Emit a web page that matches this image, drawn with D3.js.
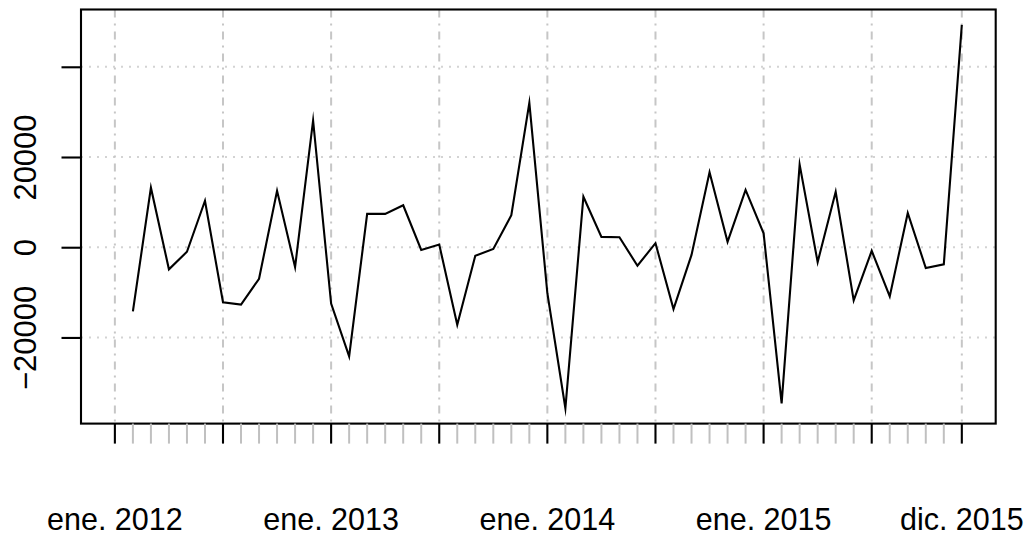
<!DOCTYPE html>
<html>
<head>
<meta charset="utf-8">
<script src="https://cdn.jsdelivr.net/npm/d3@7"></script>
<style>
  html, body { margin: 0; padding: 0; background: #fff; }
  svg { display: block; }
  text { font-family: "Liberation Sans", Arial, Helvetica, sans-serif; fill: #000; }
</style>
</head>
<body>
<svg id="chart" width="1029" height="535"></svg>
<script>
// Monthly series, feb. 2012 .. dic. 2015 (month index 0 = ene. 2012)
const startMonth = 1;
const values = [
  -14200, 13200, -4900, -1000, 10300, -12200, -12700, -7000, 12500, -4400, 28100,
  -12500, -24200, 7400, 7400, 9300, -600, 600, -17200, -1900, -400, 7100, 32000,
  -10200, -35700, 11200, 2300, 2200, -4100, 900, -13700, -1700, 16600, 1200, 12700,
  3100, -34600, 18300, -3300, 12300, -11800, -800, -10900, 7600, -4600, -3800, 49300
];
const monthIndex = values.map((_, i) => startMonth + i);

// Axis ticks
const majorTicks = [0, 6, 12, 18, 24, 30, 36, 42, 47];
const minorTicks = d3.range(0, 48).filter(m => !majorTicks.includes(m));
const xLabelMonths = [0, 12, 24, 36, 47];
const xLabels = ["ene. 2012", "ene. 2013", "ene. 2014", "ene. 2015", "dic. 2015"];
const yTicks = [-20000, 0, 20000, 40000];
const yTickLabels = ["\u221220000", "0", "20000", ""];

const box = { left: 81, right: 995.7, top: 9.5, bottom: 423.6 };

// 4% padding on each side, as in base R plots
const xDom = [0, 47];
const xPad = (xDom[1] - xDom[0]) * 0.04;
const x = d3.scaleLinear().domain([xDom[0] - xPad, xDom[1] + xPad]).range([box.left, box.right]);

const yExt = d3.extent(values);
const yPad = (yExt[1] - yExt[0]) * 0.04;
const y = d3.scaleLinear().domain([yExt[0] - yPad, yExt[1] + yPad]).range([box.bottom, box.top]);

const svg = d3.select("#chart");

// Grid: dotted horizontal, dot-dash vertical
svg.append("g").selectAll("line").data(yTicks).join("line")
  .attr("x1", box.left).attr("x2", box.right)
  .attr("y1", d => y(d)).attr("y2", d => y(d))
  .attr("stroke", "#d3d3d3").attr("stroke-width", 2)
  .attr("stroke-dasharray", "2,6");

svg.append("g").selectAll("line").data(majorTicks).join("line")
  .attr("x1", d => x(d)).attr("x2", d => x(d))
  .attr("y1", box.top).attr("y2", box.bottom)
  .attr("stroke", "#c6c6c6").attr("stroke-width", 2)
  .attr("stroke-dasharray", "8,6,2,6");

// Series line
const line = d3.line().x((d, i) => x(monthIndex[i])).y(d => y(d));
svg.append("path").datum(values)
  .attr("d", line)
  .attr("fill", "none").attr("stroke", "#000").attr("stroke-width", 2.1)
  .attr("stroke-linejoin", "miter").attr("stroke-miterlimit", 10);

// Plot frame
svg.append("rect")
  .attr("x", box.left).attr("y", box.top)
  .attr("width", box.right - box.left).attr("height", box.bottom - box.top)
  .attr("fill", "none").attr("stroke", "#000").attr("stroke-width", 2.1);

// Y axis
const yAxis = d3.axisLeft(y).tickValues(yTicks).tickSize(19.5)
  .tickFormat((d, i) => yTickLabels[i]);
const gy = svg.append("g").attr("transform", `translate(${box.left},0)`).call(yAxis);
gy.select(".domain").remove();
gy.selectAll(".tick line").attr("stroke", "#000").attr("stroke-width", 2.1);
gy.selectAll(".tick text")
  .attr("font-size", 31)
  .attr("text-anchor", "middle")
  .attr("dy", null)
  .attr("x", null)
  .attr("transform", "translate(-45,0) rotate(-90)");

// X axis: minor ticks (grey) then major ticks (black)
const ax = svg.append("g").attr("transform", `translate(0,${box.bottom})`);
ax.selectAll("line.minor").data(minorTicks).join("line")
  .attr("class", "minor")
  .attr("x1", d => x(d)).attr("x2", d => x(d))
  .attr("y1", 0).attr("y2", 20)
  .attr("stroke", "#c0c0c0").attr("stroke-width", 2);
ax.selectAll("line.major").data(majorTicks).join("line")
  .attr("class", "major")
  .attr("x1", d => x(d)).attr("x2", d => x(d))
  .attr("y1", 0).attr("y2", 20)
  .attr("stroke", "#000").attr("stroke-width", 2.1);

svg.append("g").selectAll("text").data(xLabelMonths).join("text")
  .attr("x", d => x(d)).attr("y", 529.5)
  .attr("text-anchor", "middle")
  .attr("font-size", 30.5)
  .text((d, i) => xLabels[i]);
</script>
</body>
</html>
